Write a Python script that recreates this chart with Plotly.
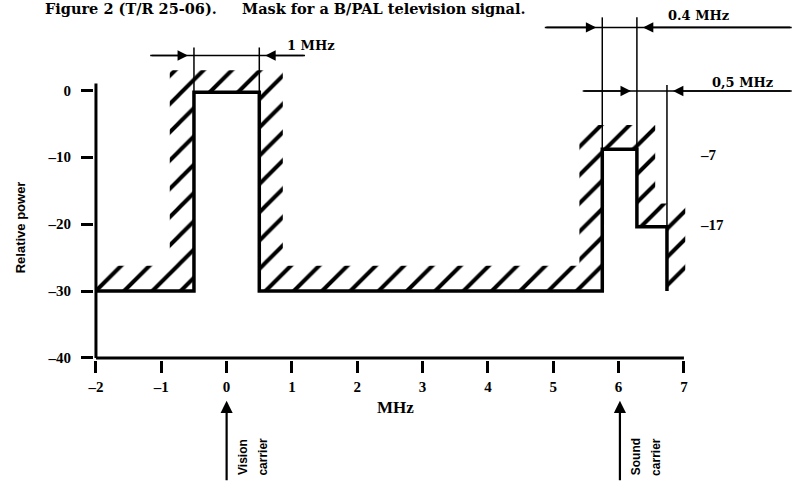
import plotly.graph_objects as go

# ---------------- data ----------------
x_ticks = [-2, -1, 0, 1, 2, 3, 4, 5, 6, 7]
x_tick_labels = ["–2", "–1", "0", "1", "2", "3", "4", "5", "6", "7"]
y_ticks = [-40, -30, -20, -10, 0]
y_tick_labels = ["–40", "–30", "–20", "–10", "0"]

# mask line (MHz, relative power as drawn)
mask_mhz = [-2, -0.5, -0.5, 0.5, 0.5, 5.75, 5.75, 6.28, 6.28, 6.74, 6.74]
mask_level = [-30, -30, -0.3, -0.3, -30, -30, -8.8, -8.8, -20.4, -20.4, -30]

# outer edge of the hatched (forbidden) zone
hatch_outer_mhz = [-2, -0.87, -0.87, 0.86, 0.86, 5.4, 5.4, 6.56, 6.56, 7.02, 7.02]
hatch_outer_level = [-26.2, -26.2, 3.0, 3.0, -26.2, -26.2, -5.2, -5.2, -16.9, -16.9, -30]

# side labels of the sound steps
level_labels = ["–7", "–17"]
level_label_mhz = [7.37, 7.43]
level_label_pos = [-9.6, -20.2]

# dimension annotations
dim_labels = ["1 MHz", "0.4 MHz", "0,5 MHz"]
dim_level = [5.2, 9.4, -0.1]
dim_line_start = [-1.17, 4.87, 5.45]
dim_line_end = [1.2, 8.65, 8.65]
dim_left_edge = [-0.5, 5.75, 6.28]
dim_right_edge = [0.5, 6.28, 6.74]
dim_label_mhz = [1.29, 7.23, 7.9]
dim_label_level = [6.7, 11.2, 1.2]

# extension lines (x, top, bottom)
ext_mhz = [-0.5, 0.5, 5.75, 6.28, 6.74]
ext_top = [6.4, 6.4, 10.9, 10.9, 0.8]
ext_bottom = [-0.3, -0.3, -8.8, -8.8, -20.4]

# carriers
carrier_mhz = [0.0, 6.02]
carrier_words = [("Vision", "carrier"), ("Sound", "carrier")]

SERIF = "Liberation Serif"
WIDE_SERIF = "DejaVu Serif"
SANS = "Liberation Sans"

X_RANGE = [-2.03, 8.654]
Y_RANGE = [-40.3, 12]


def px(v):
    """data x -> paper fraction (plot area spans the whole x-domain)"""
    return (v - X_RANGE[0]) / (X_RANGE[1] - X_RANGE[0])


def py(v):
    """data y -> paper fraction"""
    return (v - Y_RANGE[0]) / (Y_RANGE[1] - Y_RANGE[0])


def label(x, y, text, family, size, angle=0, xanchor="center"):
    return dict(x=px(x), y=py(y), xref="paper", yref="paper", text="<b>%s</b>" % text,
                showarrow=False, xanchor=xanchor, yanchor="middle", textangle=angle,
                font=dict(family=family, size=size, color="black"))


fig = go.Figure()

# hatched zone
poly_x = hatch_outer_mhz + mask_mhz[::-1]
poly_y = hatch_outer_level + mask_level[::-1]
fig.add_trace(go.Scatter(
    x=poly_x, y=poly_y, mode="none", fill="toself",
    fillcolor="white",
    fillpattern=dict(shape="/", size=20, solidity=0.2, fgcolor="black", bgcolor="white",
                     fgopacity=1),
    hoverinfo="skip", showlegend=False))

# extension lines
ex, ey = [], []
for xm, t, b in zip(ext_mhz, ext_top, ext_bottom):
    ex += [xm, xm, None]
    ey += [t, b, None]
fig.add_trace(go.Scatter(x=ex, y=ey, mode="lines", line=dict(color="black", width=1.5),
                         hoverinfo="skip", showlegend=False))

# dimension horizontal lines
dx, dy = [], []
for s, e, lv in zip(dim_line_start, dim_line_end, dim_level):
    dx += [s, e, None]
    dy += [lv, lv, None]
fig.add_trace(go.Scatter(x=dx, y=dy, mode="lines", line=dict(color="black", width=1.5),
                         hoverinfo="skip", showlegend=False))

# axis lines
fig.add_trace(go.Scatter(x=[x_ticks[0], x_ticks[-1]], y=[y_ticks[0], y_ticks[0]], mode="lines",
                         line=dict(color="black", width=3), hoverinfo="skip", showlegend=False))
fig.add_trace(go.Scatter(x=[x_ticks[0], x_ticks[0]], y=[y_ticks[0], 1], mode="lines",
                         line=dict(color="black", width=3), hoverinfo="skip", showlegend=False))

# mask
fig.add_trace(go.Scatter(x=mask_mhz, y=mask_level, mode="lines",
                         line=dict(color="black", width=3.5), hoverinfo="skip", showlegend=False))

ann = []
# dimension arrows and labels
for i in range(len(dim_labels)):
    lv = dim_level[i]
    ann.append(dict(x=dim_left_edge[i], y=lv, ax=dim_line_start[i], ay=lv, axref="x", ayref="y",
                    xref="x", yref="y", text="", showarrow=True, arrowhead=2, arrowsize=1.3,
                    arrowwidth=1.6, arrowcolor="black", standoff=6))
    ann.append(dict(x=dim_right_edge[i], y=lv, ax=dim_line_end[i], ay=lv, axref="x", ayref="y",
                    xref="x", yref="y", text="", showarrow=True, arrowhead=2, arrowsize=1.3,
                    arrowwidth=1.6, arrowcolor="black", standoff=6))
    ann.append(label(dim_label_mhz[i], dim_label_level[i], dim_labels[i], WIDE_SERIF, 13))

# level labels
for t, xm, lv in zip(level_labels, level_label_mhz, level_label_pos):
    ann.append(label(xm, lv, t, SERIF, 15))

# carriers
for xm, (w1, w2) in zip(carrier_mhz, carrier_words):
    ann.append(dict(x=xm, y=py(-46.4), xref="x", yref="paper", ax=0, ay=81,
                    axref="pixel", ayref="pixel",
                    text="", showarrow=True, arrowhead=2, arrowsize=1.1, arrowwidth=2.2,
                    arrowcolor="black"))
    ann.append(label(xm + 0.25, -54.8, w1, SANS, 12, angle=-90))
    ann.append(label(xm + 0.55, -54.8, w2, SANS, 12, angle=-90))

# axis titles and figure title
ann.append(label(-3.15, -20.5, "Relative power", SANS, 13, angle=-90))
ann.append(label(2.59, -47.4, "MHz", SERIF, 17))
ann.append(label(-2.81, 12.25,
                 "Figure 2 (T/R 25-06).&nbsp;&nbsp;&nbsp;&nbsp; Mask for a B/PAL television signal.",
                 WIDE_SERIF, 14.5, xanchor="left"))

fig.update_layout(
    width=792, height=484,
    margin=dict(l=94, r=0, t=10, b=124),
    paper_bgcolor="white", plot_bgcolor="white",
    showlegend=False,
    annotations=ann,
    xaxis=dict(range=X_RANGE, showgrid=False, zeroline=False, showline=False,
               tickvals=x_ticks, ticktext=x_tick_labels, ticks="outside", ticklen=12,
               tickwidth=2.5, tickcolor="black", ticklabelstandoff=1,
               tickfont=dict(family=SERIF, size=15, color="black", weight="bold")),
    yaxis=dict(range=Y_RANGE, showgrid=False, zeroline=False, showline=False,
               tickvals=y_ticks, ticktext=y_tick_labels, ticks="outside", ticklen=12,
               tickwidth=2.5, tickcolor="black", ticklabelstandoff=7,
               tickfont=dict(family=SERIF, size=15, color="black", weight="bold")),
)

fig.write_html("out.html", config={"displayModeBar": False},
               post_script="document.body.style.margin='0';document.body.style.overflow='hidden';")
